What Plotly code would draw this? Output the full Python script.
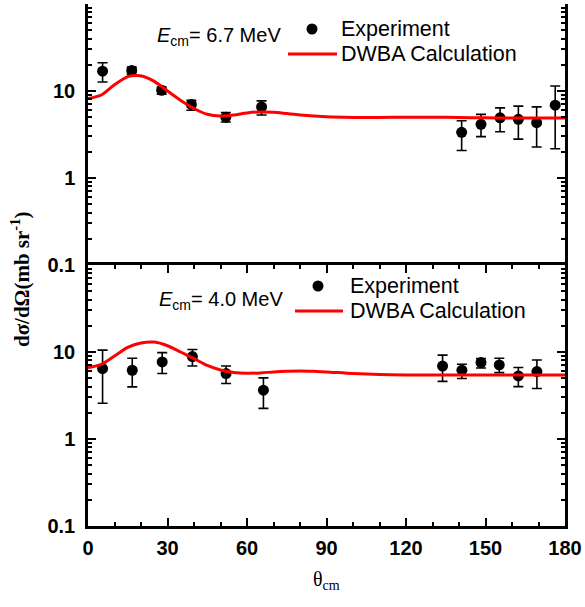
import plotly.graph_objects as go

# ---- data: E_cm = 6.7 MeV (top panel) ----
exp67_theta = [5.5, 16.5, 27.8, 39.0, 52.0, 65.5, 141.0, 148.3, 155.5, 162.4, 169.3, 176.3]
exp67_val = [16.9, 17.2, 10.2, 7.0, 5.0, 6.55, 3.35, 4.14, 4.92, 4.72, 4.32, 6.87]
exp67_hi = [21.1, 18.8, 11.1, 7.8, 5.66, 7.7, 4.55, 5.38, 6.4, 6.7, 6.57, 11.4]
exp67_lo = [12.7, 15.5, 9.2, 6.0, 4.4, 5.3, 2.07, 2.99, 3.4, 2.8, 2.27, 2.17]

dwba67_theta = [0, 5, 10, 15, 18, 21, 25, 30, 35, 40, 45, 50, 55, 60, 65, 70, 75, 80, 90, 100,
                110, 120, 130, 140, 150, 160, 170, 180]
dwba67_val = [8.2, 9.0, 11.8, 14.6, 15.1, 14.7, 12.9, 10.0, 7.8, 6.3, 5.4, 5.15, 5.3, 5.6, 5.75,
              5.7, 5.5, 5.3, 5.05, 4.97, 4.97, 5.0, 5.0, 4.95, 4.92, 4.9, 4.9, 4.9]

# ---- data: E_cm = 4.0 MeV (bottom panel) ----
exp40_theta = [5.5, 16.7, 28.0, 39.4, 52.1, 66.2, 133.8, 141.1, 148.3, 155.2, 162.4, 169.4]
exp40_val = [6.45, 6.17, 7.68, 8.86, 5.65, 3.64, 6.9, 6.17, 7.56, 7.1, 5.31, 5.96]
exp40_hi = [10.5, 8.47, 9.84, 10.7, 6.9, 5.04, 9.2, 7.23, 8.4, 8.47, 6.63, 8.1]
exp40_lo = [2.58, 3.97, 5.65, 6.9, 4.35, 2.25, 4.6, 4.96, 6.56, 5.8, 4.0, 3.8]

dwba40_theta = [0, 5, 10, 15, 20, 25, 30, 35, 40, 45, 50, 55, 60, 65, 70, 75, 80, 85, 90, 100,
                110, 120, 130, 140, 150, 160, 170, 180]
dwba40_val = [6.6, 7.2, 9.0, 11.3, 12.7, 13.0, 11.8, 10.0, 8.4, 7.0, 6.2, 5.8, 5.7, 5.75, 5.9,
              6.0, 6.05, 6.0, 5.9, 5.65, 5.5, 5.45, 5.45, 5.45, 5.45, 5.45, 5.45, 5.45]

y_tickvals = [0.1, 1, 10]
y_ticktext = ["0.1", "1", "10"]
y_minor = [m * 10 ** e for e in (-1, 0, 1) for m in range(2, 10)]
x_tickvals = [0, 30, 60, 90, 120, 150, 180]
legend_labels = ["Experiment", "DWBA Calculation"]
energy_labels = ["6.7", "4.0"]

W, H = 585, 607
ML, MR, MT, MB = 88, 20, 4, 81
PW, PH = W - ML - MR, H - MT - MB


def px(x):
    return (x - ML) / PW


def py(y):
    return (H - MB - y) / PH


fig = go.Figure()


def add_panel(theta, val, hi, lo, ctheta, cval, ya):
    plus = [h - v for h, v in zip(hi, val)]
    minus = [v - l for v, l in zip(val, lo)]
    fig.add_trace(go.Scatter(
        x=theta, y=val, mode="markers", name=legend_labels[0], showlegend=False,
        marker=dict(color="black", size=11, symbol="circle"),
        error_y=dict(type="data", symmetric=False, array=plus, arrayminus=minus,
                     color="black", thickness=1.6, width=5),
        xaxis="x", yaxis=ya))
    fig.add_trace(go.Scatter(
        x=ctheta, y=cval, mode="lines", name=legend_labels[1], showlegend=False,
        line=dict(color="#ff0000", width=3, shape="spline", smoothing=0.8),
        xaxis="x", yaxis=ya))


add_panel(exp67_theta, exp67_val, exp67_hi, exp67_lo, dwba67_theta, dwba67_val, "y2")
add_panel(exp40_theta, exp40_val, exp40_hi, exp40_lo, dwba40_theta, dwba40_val, "y")

tickfont = dict(family="Liberation Sans", size=20, color="black", weight="bold")

yaxis_common = dict(
    type="log", range=[-1, 2], tickvals=y_tickvals, ticktext=y_ticktext,
    ticks="inside", ticklen=8, tickwidth=2, tickcolor="black",
    showline=True, linewidth=2.5, linecolor="black", mirror="ticks",
    showgrid=False, zeroline=False, tickfont=tickfont, ticklabelstandoff=6,
    minor=dict(tickvals=y_minor, ticks="inside", ticklen=4, tickwidth=1.5,
               tickcolor="black", showgrid=False),
)

xaxis_common = dict(
    range=[0, 180], tickvals=x_tickvals, ticks="inside", ticklen=8, tickwidth=2,
    tickcolor="black", showline=True, linewidth=2.5, linecolor="black", mirror="ticks",
    showgrid=False, zeroline=False, tickfont=tickfont, ticklabelstandoff=2,
    minor=dict(dtick=10, tick0=0, ticks="inside", ticklen=4, tickwidth=1.5,
               tickcolor="black", showgrid=False),
)

text_font = dict(family="Liberation Sans", size=21.5, color="black")
e_font = dict(family="Liberation Sans", size=20, color="black")

annotations = []
shapes = []

# manual legends: (dot x, dot y, line x0, line x1, line y, text x)
legend_pos = [(312, 29, 288, 337, 54, 339), (318, 286, 295, 343, 311, 348)]
energy_pos = [(155, 37), (157, 300)]

for (dx, dy, lx0, lx1, ly, tx), (ex, ey), en in zip(legend_pos, energy_pos, energy_labels):
    shapes.append(dict(type="circle", xref="paper", yref="paper", xsizemode="pixel",
                       ysizemode="pixel", xanchor=px(dx), yanchor=py(dy),
                       x0=-5.5, x1=5.5, y0=-5.5, y1=5.5,
                       fillcolor="black", line=dict(color="black", width=0)))
    shapes.append(dict(type="line", xref="paper", yref="paper", x0=px(lx0), x1=px(lx1),
                       y0=py(ly), y1=py(ly), line=dict(color="#ff0000", width=3)))
    annotations.append(dict(text=legend_labels[0], x=px(tx), y=py(dy), xref="paper",
                            yref="paper", xanchor="left", yanchor="middle", showarrow=False,
                            font=text_font))
    annotations.append(dict(text=legend_labels[1], x=px(tx), y=py(ly), xref="paper",
                            yref="paper", xanchor="left", yanchor="middle", showarrow=False,
                            font=text_font))
    annotations.append(dict(text=f"<i>E</i><sub>cm</sub>= {en} MeV", x=px(ex), y=py(ey),
                            xref="paper", yref="paper", xanchor="left", yanchor="middle",
                            showarrow=False, font=e_font))

annotations.append(dict(text="<b>dσ/dΩ(mb sr<sup>-1</sup>)</b>", x=px(20), y=py(279),
                        xref="paper", yref="paper", xanchor="center", yanchor="middle",
                        textangle=-90, showarrow=False,
                        font=dict(family="Liberation Serif", size=21, color="black")))
annotations.append(dict(text="θ<sub>cm</sub>", x=px(326), y=py(580), xref="paper",
                        yref="paper", xanchor="center", yanchor="middle", showarrow=False,
                        font=dict(family="Liberation Serif", size=20, color="black")))

fig.update_layout(
    width=W, height=H,
    margin=dict(l=ML, r=MR, t=MT, b=MB),
    paper_bgcolor="white", plot_bgcolor="white",
    xaxis=dict(**xaxis_common, anchor="y", domain=[0, 1]),
    xaxis2=dict(**xaxis_common, anchor="y2", matches="x", showticklabels=False,
                overlaying="x"),
    yaxis=dict(**yaxis_common, domain=[0, 0.5], anchor="x"),
    yaxis2=dict(**yaxis_common, domain=[0.5, 1], anchor="x"),
    showlegend=False,
    annotations=annotations,
    shapes=shapes,
)

fig.write_html("out.html")
